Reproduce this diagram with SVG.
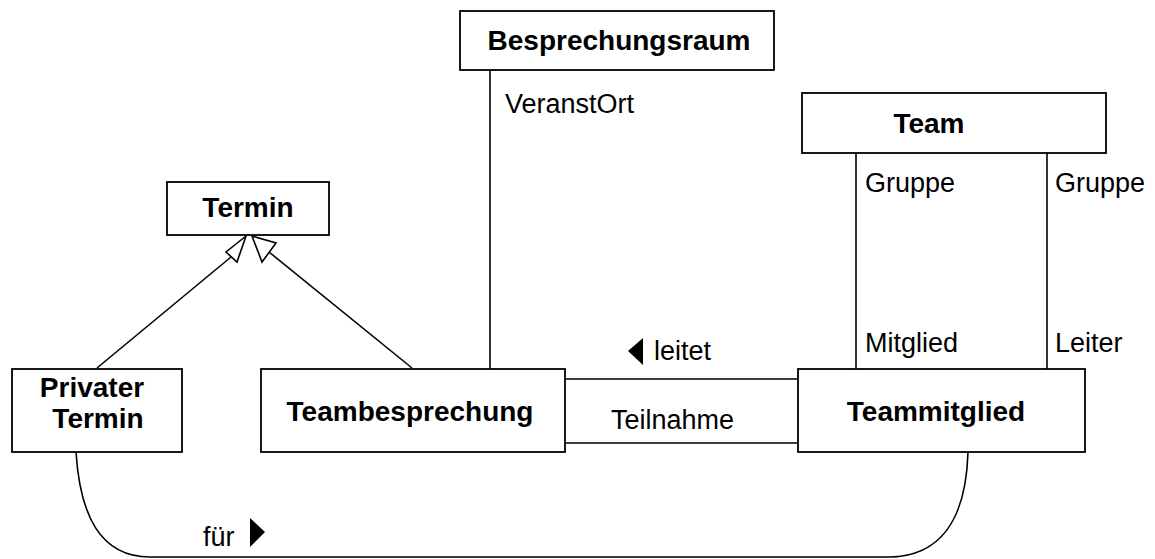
<svg xmlns="http://www.w3.org/2000/svg" width="1155" height="559" viewBox="0 0 1155 559">
<style>
.box{fill:#fff;stroke:#000;stroke-width:1.8}
.ln{fill:none;stroke:#000;stroke-width:1.6}
.tb{font-family:"Liberation Sans",Arial,sans-serif;font-weight:bold;font-size:28px;fill:#000;text-anchor:middle}
.tl{font-family:"Liberation Sans",Arial,sans-serif;font-size:27px;fill:#000}
.gen{fill:#fff;stroke:#000;stroke-width:1.6;stroke-linejoin:miter}
</style>
<rect width="1155" height="559" fill="#fff"/>
<g id="connectors">
  <line class="ln" x1="97" y1="368" x2="231" y2="257"/>
  <polygon class="gen" points="246,236 226,252 237,262"/>
  <line class="ln" x1="412" y1="368" x2="269" y2="252"/>
  <polygon class="gen" points="252,236 276,243 262,262"/>
  <line class="ln" x1="490" y1="70" x2="490" y2="369"/>
  <line class="ln" x1="856" y1="153" x2="856" y2="369"/>
  <line class="ln" x1="1047" y1="153" x2="1047" y2="369"/>
  <line class="ln" x1="565" y1="379" x2="798" y2="379"/>
  <line class="ln" x1="565" y1="443" x2="798" y2="443"/>
  <path class="ln" d="M76,452 C80,515 100,557 150,557 L888,557 C940,557 966,520 968,452"/>
  <text class="tl" x="505" y="113">VeranstOrt</text>
  <text class="tl" x="865" y="192">Gruppe</text>
  <text class="tl" x="1055" y="192">Gruppe</text>
  <text class="tl" x="865" y="352">Mitglied</text>
  <text class="tl" x="1055" y="352">Leiter</text>
  <polygon points="643,338 643,365 628,351" fill="#000"/>
  <text class="tl" x="654" y="360">leitet</text>
  <text class="tl" x="611" y="429">Teilnahme</text>
  <text class="tl" x="203" y="546">für</text>
  <polygon points="250,518 250,547 265,532" fill="#000"/>
</g>
<g id="besprechungsraum">
  <rect class="box" x="460" y="11" width="314" height="59"/>
  <text class="tb" x="619" y="50">Besprechungsraum</text>
</g>
<g id="team">
  <rect class="box" x="802" y="93" width="304" height="60"/>
  <text class="tb" x="929" y="133">Team</text>
</g>
<g id="termin">
  <rect class="box" x="167" y="182" width="162" height="53"/>
  <text class="tb" x="248" y="217">Termin</text>
</g>
<g id="privater-termin">
  <rect class="box" x="12" y="369" width="170" height="83"/>
  <text class="tb" x="92" y="397">Privater</text>
  <text class="tb" x="98" y="428">Termin</text>
</g>
<g id="teambesprechung">
  <rect class="box" x="261" y="369" width="304" height="83"/>
  <text class="tb" x="410" y="421">Teambesprechung</text>
</g>
<g id="teammitglied">
  <rect class="box" x="798" y="369" width="287" height="83"/>
  <text class="tb" x="936" y="421">Teammitglied</text>
</g>
</svg>
